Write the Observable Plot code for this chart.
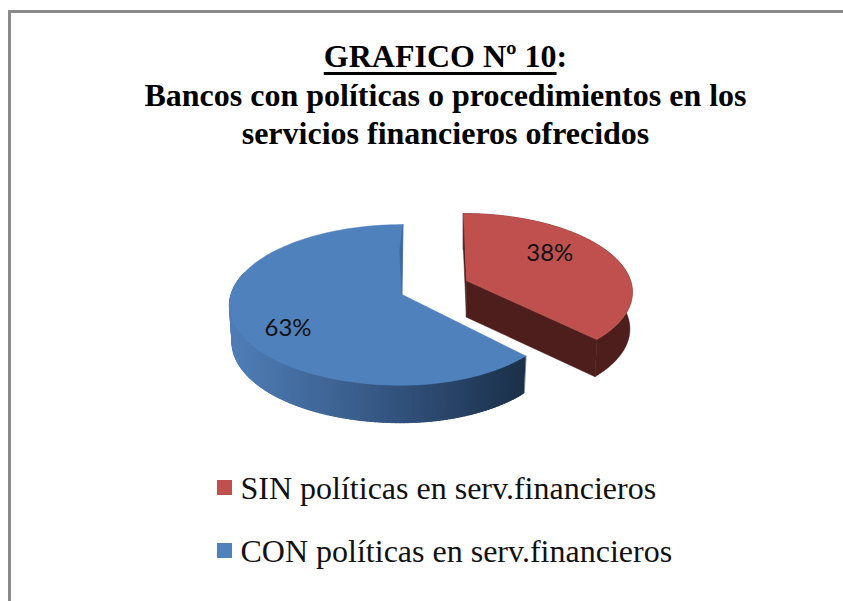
<!DOCTYPE html>
<html lang="es">
<head>
<meta charset="utf-8">
<script src="https://cdn.jsdelivr.net/npm/d3@7"></script>
<script src="https://cdn.jsdelivr.net/npm/@observablehq/plot@0.6"></script>
<style>
  html, body { margin: 0; padding: 0; background: #fff; }
  #wrap { position: absolute; left: 0; top: 0; width: 843px; height: 601px; overflow: hidden; }
  #title { font-family: "Liberation Serif", serif; font-weight: bold; color: #000; text-align: center;
           font-size: 32px; line-height: 38.5px; position: absolute; left: 0; top: 37px; width: 891px; }
  #title u { text-underline-offset: 5px; text-decoration-thickness: 3px; }
  #chart { position: absolute; left: 0; top: 190px; }
  .legend { position: absolute; left: 0; width: 843px; height: 40px; font-family: "Liberation Serif", serif; font-size: 32px; line-height: 34px; color: #111; white-space: nowrap; }
  .legend i { position: absolute; left: 217px; top: 9px; width: 15px; height: 15px; }
  .legend span { position: absolute; left: 240.5px; top: 0; }
</style>
</head>
<body>
<div id="wrap">
  <div style="position:absolute;left:8px;top:10px;right:0;bottom:0;border-left:3px solid #8a8a8a;border-top:3px solid #8a8a8a"></div>
  <div id="title"><u>GRAFICO Nº 10</u>:<br>Bancos con políticas o procedimientos en los<br>servicios financieros ofrecidos</div>
  <div id="chart"></div>
  <div id="legend"></div>
</div>
<script>
const categories = ["SIN políticas en serv.financieros", "CON políticas en serv.financieros"];
const shares = [37.5, 62.5];
const valueLabels = ["38%", "63%"];
const topColors = ["#c0504d", "#4f81bd"];

// Pie layout (page pixels of the 3-D projection)
const persp = 0.13, lift = [75.7, 79], depth = 36;
const apexX = [466, 401.5], apexY = [280, 294];
const radiusX = [164, 171], radiusXRight = [164, 160], skew = [-3.5, 1];
const labelR = [0.57, 0.695], labelShift = [-11.6, 12.5];

const offsetY = 190;
function project(i, theta, r, z) {
  const u = r * Math.sin(theta), v = r * Math.cos(theta);
  const d = 1 + persp * v;
  const b = (u < 0 ? radiusX[i] : radiusXRight[i]) * (z > 0 ? 0.985 : 1);
  return {
    px: apexX[i] + b * u / d + skew[i] * v / d,
    py: apexY[i] - lift[i] * v / d + z * (1 + 0.02 * (1 - v))
  };
}

// Slice angles, clockwise from the top: the red slice runs 0..share, the blue one takes the rest
const spans = [
  [0, shares[0] / 100 * 2 * Math.PI],
  [shares[0] / 100 * 2 * Math.PI, 2 * Math.PI]
];

const polys = [];
function addPoly(id, fill, pts) {
  pts.forEach((p, k) => polys.push({id, fill, k, x: p.px, y: p.py}));
}

const blueSide = d3.interpolateRgbBasis(["#4f7db6", "#3f6596", "#2c4a72", "#1b3048"]);
const steps = 180;

spans.forEach(([a0, a1], i) => {
  const thetas = d3.range(steps + 1).map(k => a0 + (a1 - a0) * k / steps);
  if (i === 0) {
    addPoly("r-face-a", "#4d1e1c", [project(0, a0, 1, 0), project(0, a0, 0, 0), project(0, a0, 0, depth), project(0, a0, 1, depth)]);
    addPoly("r-face-b", "#4d1e1c", [project(0, a1, 0, 0), project(0, a1, 1, 0), project(0, a1, 1, depth), project(0, a1, 0, depth)]);
    addPoly("r-rim", "#4d1e1c", [...thetas.map(t => project(0, t, 1, 0)), ...thetas.slice().reverse().map(t => project(0, t, 1, depth))]);
  } else {
    // rim quads are painted from the dark right end to the left, each overlapping the next
    const ordered = d3.pairs(thetas).filter(([t0, t1]) => Math.cos((t0 + t1) / 2) <= 0.25);
    ordered.forEach(([t0, t1], k) => {
      const p = project(1, t0, 1, 0);
      const t2 = t1 + (t1 - t0) * 1.5;
      const q2 = project(1, t2, 1, 0);
      const frac = Math.min(1, Math.max(0, (p.px - 232) / (527 - 232)));
      addPoly("b-rim-" + String(k).padStart(3, "0"), blueSide(frac), [p, q2, project(1, t2, 1, depth), project(1, t0, 1, depth)]);
    });
  }
  addPoly("top-" + i, topColors[i], [project(i, a0, 0, 0), ...thetas.map(t => project(i, t, 1, 0))]);
  if (i === 1) {
    addPoly("z-sliver", "#41689c", [project(1, a1, 1, 0), project(1, a1, 0, 0), project(1, a1 - 0.03, 0.6, 0)]);
  }
});

const labels = spans.map(([a0, a1], i) => {
  const c = project(i, (a0 + a1) / 2, labelR[i], 0);
  return {text: valueLabels[i], x: c.px, y: c.py + labelShift[i]};
});

const chart = Plot.plot({
  width: 843, height: 260,
  margin: 0,
  x: {domain: [0, 843], range: [0, 843], axis: null},
  y: {domain: [offsetY, offsetY + 260], range: [0, 260], axis: null},
  marks: [
    Plot.line(polys, {x: "x", y: "y", z: "id", fill: "fill", stroke: "fill", strokeWidth: 0.5, curve: "linear-closed", sort: null}),
    Plot.text(labels, {x: "x", y: "y", text: "text", fontFamily: "Lato, sans-serif", fontSize: 24, fill: "#111"})
  ],
  style: {background: "transparent"}
});
document.getElementById("chart").append(chart);

const legendTop = [471, 534];
const legend = document.getElementById("legend");
categories.forEach((c, i) => {
  const row = document.createElement("div");
  row.className = "legend";
  row.style.top = legendTop[i] + "px";
  const sw = document.createElement("i"); sw.style.background = topColors[i];
  const t = document.createElement("span"); t.textContent = c;
  row.append(sw, t);
  legend.append(row);
});
</script>
</body>
</html>
